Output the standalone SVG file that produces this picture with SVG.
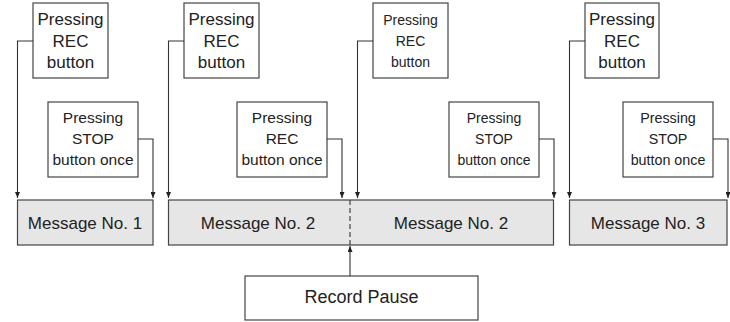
<svg xmlns="http://www.w3.org/2000/svg" width="730" height="322" viewBox="0 0 730 322">
<defs>
<style>
.box{fill:#fff;stroke:#444;stroke-width:1.2}
.msg{fill:#e6e6e6;stroke:#444;stroke-width:1.2}
.t{font-family:"Liberation Sans",Arial,sans-serif;fill:#222;text-anchor:middle}
.c{fill:none;stroke:#333;stroke-width:1.1}
</style>
<marker id="ah" markerUnits="userSpaceOnUse" markerWidth="6" markerHeight="5" refX="6" refY="2.5" orient="auto" viewBox="0 0 6 5">
<path d="M0,0 L6,2.5 L0,5 Z" fill="#222"/>
</marker>
</defs>
<rect width="730" height="322" fill="#fff"/>

<g id="rec1"><rect class="box" x="33" y="3" width="75" height="75"/>
<text class="t" font-size="17" x="70.5" y="25">Pressing</text><text class="t" font-size="17" x="70.5" y="46.5">REC</text><text class="t" font-size="17" x="70.5" y="67.5">button</text></g>
<g id="stop1"><rect class="box" x="48" y="102" width="90" height="75"/>
<text class="t" font-size="15.5" x="93" y="122.5">Pressing</text><text class="t" font-size="15.5" x="93" y="144">STOP</text><text class="t" font-size="15.5" x="93" y="165">button once</text></g>

<g id="rec2"><rect class="box" x="184" y="3" width="75" height="75"/>
<text class="t" font-size="17" x="221.5" y="25">Pressing</text><text class="t" font-size="17" x="221.5" y="46.5">REC</text><text class="t" font-size="17" x="221.5" y="67.5">button</text></g>
<g id="recOnce"><rect class="box" x="237" y="102" width="90" height="75"/>
<text class="t" font-size="15.5" x="282" y="122.5">Pressing</text><text class="t" font-size="15.5" x="282" y="144">REC</text><text class="t" font-size="15.5" x="282" y="165">button once</text></g>

<g id="rec3"><rect class="box" x="373" y="3" width="75" height="75"/>
<text class="t" font-size="14" x="410.5" y="24.5">Pressing</text><text class="t" font-size="14" x="410.5" y="46">REC</text><text class="t" font-size="14" x="410.5" y="67">button</text></g>
<g id="stop2"><rect class="box" x="449" y="102" width="90" height="75"/>
<text class="t" font-size="14" x="494" y="122.5">Pressing</text><text class="t" font-size="14" x="494" y="144">STOP</text><text class="t" font-size="14" x="494" y="165">button once</text></g>

<g id="rec4"><rect class="box" x="585" y="3" width="74" height="75"/>
<text class="t" font-size="17" x="622" y="25">Pressing</text><text class="t" font-size="17" x="622" y="46.5">REC</text><text class="t" font-size="17" x="622" y="67.5">button</text></g>
<g id="stop3"><rect class="box" x="623" y="102" width="90" height="75"/>
<text class="t" font-size="14.3" x="668" y="122.5">Pressing</text><text class="t" font-size="14.3" x="668" y="144">STOP</text><text class="t" font-size="14.3" x="668" y="165">button once</text></g>

<g id="msg1"><rect class="msg" x="17.5" y="200" width="135.5" height="45"/>
<text class="t" font-size="17" x="85" y="228.5">Message No. 1</text></g>
<g id="msg2"><rect class="msg" x="168.5" y="200" width="385" height="45"/>
<line x1="350" y1="200" x2="350" y2="245" stroke="#333" stroke-width="1.1" stroke-dasharray="5,3"/>
<text class="t" font-size="17" x="258" y="228.5">Message No. 2</text>
<text class="t" font-size="17" x="451" y="228.5">Message No. 2</text></g>
<g id="msg3"><rect class="msg" x="569.5" y="200" width="157.5" height="45"/>
<text class="t" font-size="17" x="648" y="228.5">Message No. 3</text></g>
<g id="pause"><rect class="box" x="245" y="276" width="233" height="44"/>
<text class="t" font-size="18" x="361.5" y="303">Record Pause</text></g>

<g id="connectors">
<path class="c" d="M33,41 H17.5 V198" marker-end="url(#ah)"/>
<path class="c" d="M138,139 H153 V198" marker-end="url(#ah)"/>
<path class="c" d="M184,41 H168.5 V198" marker-end="url(#ah)"/>
<path class="c" d="M327,139 H342 V198" marker-end="url(#ah)"/>
<path class="c" d="M373,41 H357.5 V198" marker-end="url(#ah)"/>
<path class="c" d="M539,139 H554 V198" marker-end="url(#ah)"/>
<path class="c" d="M585,41 H569.5 V198" marker-end="url(#ah)"/>
<path class="c" d="M713,139 H728 V198" marker-end="url(#ah)"/>
<path class="c" d="M350,276 V246" marker-end="url(#ah)"/>
</g>
</svg>
